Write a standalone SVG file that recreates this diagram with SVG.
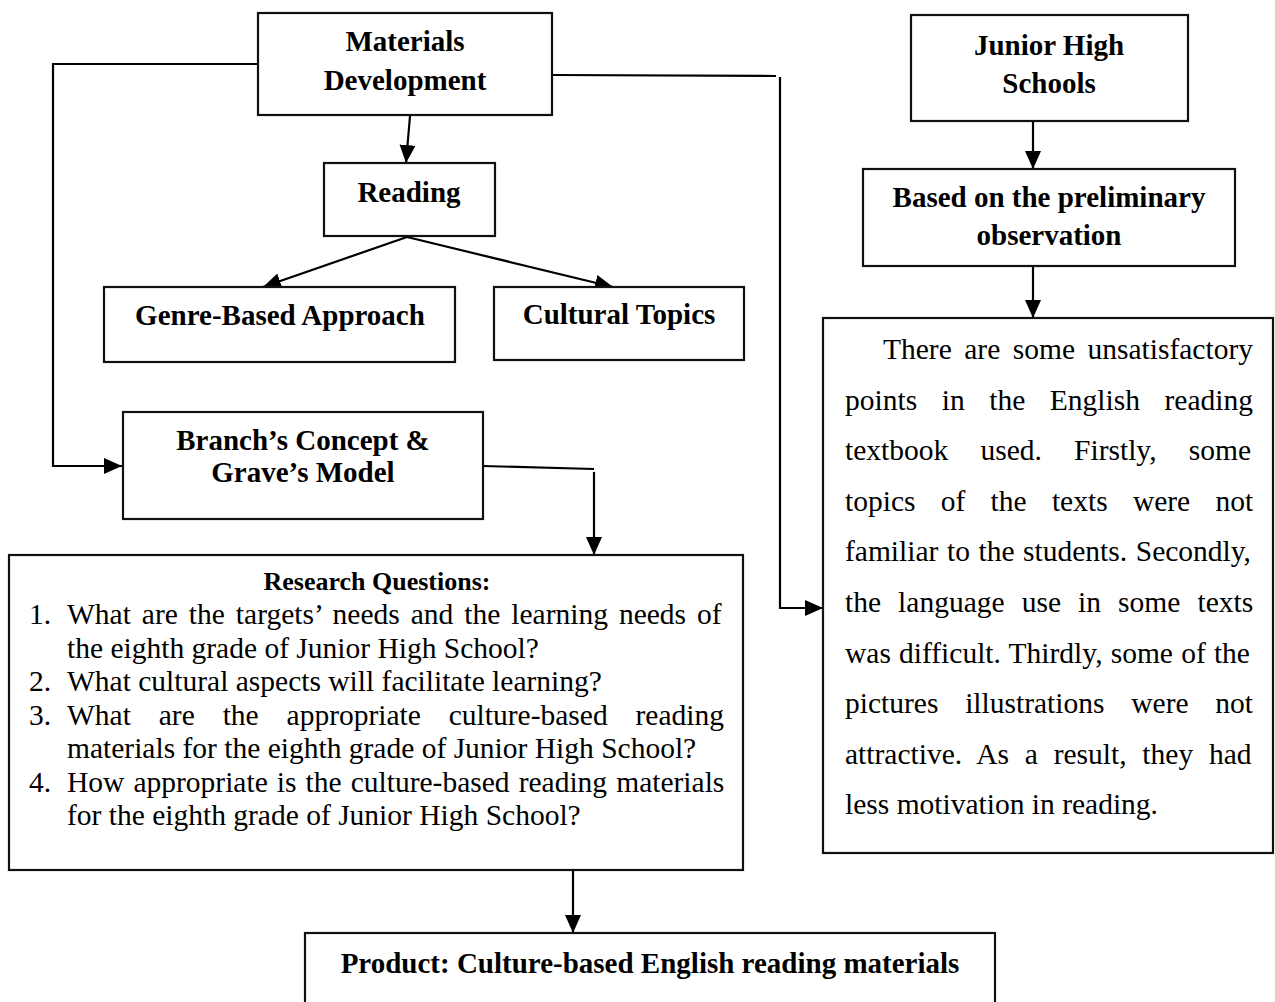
<svg xmlns="http://www.w3.org/2000/svg" width="1275" height="1002" viewBox="0 0 1275 1002">
<defs>
<marker id="arr" markerUnits="userSpaceOnUse" markerWidth="19" markerHeight="17" refX="18" refY="8" orient="auto">
<path d="M0,0 L18,8 L0,16 z" fill="#000"/>
</marker>
<style>
.box{fill:#fff;stroke:#111;stroke-width:2.2}
.lbl{font-family:"Liberation Serif","Times New Roman",serif;font-weight:bold;font-size:29px;fill:#000;text-anchor:middle}
.q{font-family:"Liberation Serif","Times New Roman",serif;font-size:29.5px;fill:#000}
.p{font-family:"Liberation Serif","Times New Roman",serif;font-size:29.5px;fill:#000}
.con{fill:none;stroke:#000;stroke-width:2.2}
</style>
</defs>
<rect width="1275" height="1002" fill="#fff"/>

<g id="connectors">
<path class="con" d="M410,116 L406,163" marker-end="url(#arr)"/>
<path class="con" d="M407,237 L263,287" marker-end="url(#arr)"/>
<path class="con" d="M407,237 L613,287" marker-end="url(#arr)"/>
<path class="con" d="M258,64 L53,64 L53,466 L122,466" marker-end="url(#arr)"/>
<path class="con" d="M553,75 L776,76 M780,77 L780,608 L823,608" marker-end="url(#arr)"/>
<path class="con" d="M1033,121 L1033,169" marker-end="url(#arr)"/>
<path class="con" d="M1033,266 L1033,318" marker-end="url(#arr)"/>
<path class="con" d="M483,466 L594,469 M594,472 L594,555" marker-end="url(#arr)"/>
<path class="con" d="M573,870 L573,933" marker-end="url(#arr)"/>
</g>

<g id="materials">
<rect class="box" x="258" y="13" width="294" height="102"/>
<text class="lbl" x="405" y="51">Materials</text>
<text class="lbl" x="405" y="90">Development</text>
</g>

<g id="reading">
<rect class="box" x="324" y="163" width="171" height="73"/>
<text class="lbl" x="409" y="202">Reading</text>
</g>

<g id="genre">
<rect class="box" x="104" y="287" width="351" height="75"/>
<text class="lbl" x="280" y="325">Genre-Based Approach</text>
</g>

<g id="cultural">
<rect class="box" x="494" y="287" width="250" height="73"/>
<text class="lbl" x="619" y="324">Cultural Topics</text>
</g>

<g id="junior">
<rect class="box" x="911" y="15" width="277" height="106"/>
<text class="lbl" x="1049" y="55">Junior High</text>
<text class="lbl" x="1049" y="93">Schools</text>
</g>

<g id="based">
<rect class="box" x="863" y="169" width="372" height="97"/>
<text class="lbl" x="1049" y="207">Based on the preliminary</text>
<text class="lbl" x="1049" y="245">observation</text>
</g>

<g id="branch">
<rect class="box" x="123" y="412" width="360" height="107"/>
<text class="lbl" x="303" y="450">Branch’s Concept &amp;</text>
<text class="lbl" x="303" y="482">Grave’s Model</text>
</g>

<g id="research">
<rect class="box" x="9" y="555" width="734" height="315"/>
<text class="lbl" x="377" y="590" style="font-size:26px">Research Questions:</text>
<text class="q" x="29" y="624">1.</text>
<text class="q" x="67" y="624" word-spacing="3.6">What are the targets’ needs and the learning needs of</text>
<text class="q" x="67" y="657.5">the eighth grade of Junior High School?</text>
<text class="q" x="29" y="691">2.</text>
<text class="q" x="67" y="691">What cultural aspects will facilitate learning?</text>
<text class="q" x="29" y="724.5">3.</text>
<text class="q" x="67" y="724.5" word-spacing="20.5">What are the appropriate culture-based reading</text>
<text class="q" x="67" y="758">materials for the eighth grade of Junior High School?</text>
<text class="q" x="29" y="791.5">4.</text>
<text class="q" x="67" y="791.5" word-spacing="1.7">How appropriate is the culture-based reading materials</text>
<text class="q" x="67" y="825">for the eighth grade of Junior High School?</text>
</g>

<g id="observation">
<rect class="box" x="823" y="318" width="450" height="535"/>
<text class="p" x="883" y="359" word-spacing="5.1">There are some unsatisfactory</text>
<text class="p" x="845" y="409.6" word-spacing="17.2">points in the English reading</text>
<text class="p" x="845" y="460.2" word-spacing="24.8">textbook used. Firstly, some</text>
<text class="p" x="845" y="510.8" word-spacing="17.9">topics of the texts were not</text>
<text class="p" x="845" y="561.4" word-spacing="1.2">familiar to the students. Secondly,</text>
<text class="p" x="845" y="612" word-spacing="9.7">the language use in some texts</text>
<text class="p" x="845" y="662.6" word-spacing="0.8">was difficult. Thirdly, some of the</text>
<text class="p" x="845" y="713.2" word-spacing="19.4">pictures illustrations were not</text>
<text class="p" x="845" y="763.8" word-spacing="8.4">attractive. As a result, they had</text>
<text class="p" x="845" y="814.4">less motivation in reading.</text>
</g>

<g id="product">
<rect class="box" x="305" y="933" width="690" height="80"/>
<text class="lbl" x="650" y="973">Product: Culture-based English reading materials</text>
</g>
</svg>
